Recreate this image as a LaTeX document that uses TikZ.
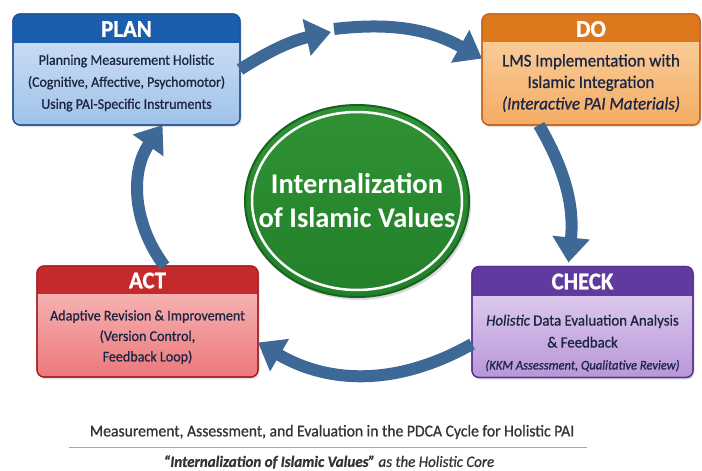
\documentclass[tikz,border=0pt]{standalone}
\usepackage{fontspec}
\setmainfont{Carlito}
\newfontfamily\boxfont{Carlito}[FakeStretch=0.95,FakeBold=0.9]
\usetikzlibrary{arrows.meta,shadows,shapes.geometric}

\definecolor{planhead}{RGB}{28,94,174}
\definecolor{planlight}{RGB}{214,229,246}
\definecolor{planmid}{RGB}{160,194,234}
\definecolor{planedge}{RGB}{34,82,148}
\definecolor{dohead}{RGB}{222,120,28}
\definecolor{dolight}{RGB}{252,214,168}
\definecolor{domid}{RGB}{244,172,100}
\definecolor{doedge}{RGB}{196,98,22}
\definecolor{acthead}{RGB}{196,42,44}
\definecolor{actlight}{RGB}{250,196,196}
\definecolor{actmid}{RGB}{236,120,122}
\definecolor{actedge}{RGB}{164,32,36}
\definecolor{checkhead}{RGB}{96,58,158}
\definecolor{checklight}{RGB}{232,218,244}
\definecolor{checkmid}{RGB}{184,150,218}
\definecolor{checkedge}{RGB}{84,48,140}
\definecolor{cycleblue}{RGB}{62,104,150}
\definecolor{inktext}{RGB}{28,38,68}
\definecolor{corelight}{RGB}{48,146,52}
\definecolor{coremid}{RGB}{34,128,42}
\definecolor{coredark}{RGB}{22,100,32}
\definecolor{capgray}{RGB}{52,52,56}

\tikzset{
  stage/.style={rectangle,rounded corners=7pt,line width=1.2pt,outer sep=0pt,
    minimum width=222pt,minimum height=111pt,
    drop shadow={opacity=0.25,shadow xshift=1.5pt,shadow yshift=-2pt}},
  headtext/.style={text=white,font=\boxfont\fontsize{24}{26}\selectfont\bfseries},
  bodytext/.style={text=inktext,align=center,font=\boxfont\fontsize{14.6}{22}\selectfont},
  cyc/.style={draw=cycleblue,line width=12pt,-{Triangle[length=25pt,width=36pt]}}
}

\begin{document}
\begin{tikzpicture}[x=1pt,y=-1pt]
\useasboundingbox (0,0) rectangle (702,471);

% four stage boxes
\node[stage,draw=planedge,top color=planlight,bottom color=planmid,minimum width=227pt] (plan) at (126.5,69.5) {};
\node[stage,draw=doedge,top color=dolight,bottom color=domid,minimum width=218pt] (do) at (591,69.5) {};
\node[stage,draw=actedge,top color=actlight,bottom color=actmid,minimum width=221pt] (act) at (147.5,321.5) {};
\node[stage,draw=checkedge,top color=checklight,bottom color=checkmid,minimum width=221pt] (check) at (582.5,322) {};

% header bands
\begin{scope}
\clip[rounded corners=7pt] (plan.south west) rectangle (plan.north east);
\fill[planhead] (plan.north west) rectangle ([yshift=-29pt]plan.north east);
\end{scope}
\begin{scope}
\clip[rounded corners=7pt] (do.south west) rectangle (do.north east);
\fill[dohead] (do.north west) rectangle ([yshift=-28pt]do.north east);
\end{scope}
\begin{scope}
\clip[rounded corners=7pt] (act.south west) rectangle (act.north east);
\fill[acthead] (act.north west) rectangle ([yshift=-28pt]act.north east);
\end{scope}
\begin{scope}
\clip[rounded corners=7pt] (check.south west) rectangle (check.north east);
\fill[checkhead] (check.north west) rectangle ([yshift=-29pt]check.north east);
\end{scope}
\draw[planedge,line width=1.2pt,rounded corners=7pt] (plan.south west) rectangle (plan.north east);
\draw[doedge,line width=1.2pt,rounded corners=7pt] (do.south west) rectangle (do.north east);
\draw[actedge,line width=1.2pt,rounded corners=7pt] (act.south west) rectangle (act.north east);
\draw[checkedge,line width=1.2pt,rounded corners=7pt] (check.south west) rectangle (check.north east);

% titles and texts
\node[headtext] (plantitle) at ([yshift=-15pt]plan.north) {PLAN};
\node[headtext] (dotitle) at ([yshift=-15pt]do.north) {DO};
\node[headtext] (acttitle) at ([yshift=-14.5pt]act.north) {ACT};
\node[headtext] (checktitle) at ([yshift=-15pt]check.north) {CHECK};
\node[bodytext] (plantext) at (126.5,83) {Planning Measurement Holistic\\(Cognitive, Affective, Psychomotor)\\Using PAI-Specific Instruments};
\node[bodytext,font=\boxfont\fontsize{17.8}{21.5}\selectfont] (dotext) at (591,83) {LMS Implementation with\\Islamic Integration\\\textit{(Interactive PAI Materials)}};
\node[bodytext,font=\boxfont\fontsize{14.8}{20.5}\selectfont] (acttext) at (147.5,337) {Adaptive Revision \& Improvement\\(Version Control,\\Feedback Loop)};
\node[bodytext,font=\boxfont\fontsize{15.6}{22}\selectfont] (checktext) at (582.5,343) {\textit{Holistic} Data Evaluation Analysis\\\& Feedback\\{\fontsize{13.2}{15}\selectfont\textit{(KKM Assessment, Qualitative Review)}}};

% core value
\node[ellipse,minimum width=224pt,minimum height=192pt,draw=coredark,line width=2pt,
  top color=corelight,bottom color=coremid,
  drop shadow={opacity=0.3,shadow xshift=2pt,shadow yshift=-3pt}] (core) at (357,201) {};
\draw[white,line width=2.5pt] (core.center) ellipse [x radius=105, y radius=89];
\node[text=white,align=center,font=\fontsize{28.5}{34}\selectfont\bfseries] (coretext) at (core.center) {Internalization\\of Islamic Values};

% PDCA cycle arrows
\coordinate (apex) at (331,32);
\draw[cyc] (plan.east) to[bend left=10] (apex);
\draw[cyc] ([xshift=3pt,yshift=3pt]apex) to[bend left=18] ([yshift=11pt]do.west);
\draw[cyc] ([xshift=-52pt]do.south) to[bend left=18] ([xshift=-14pt,yshift=4pt]check.north);
\draw[cyc] ([yshift=-22pt]check.west) to[bend left=30] ([yshift=-21pt]act.east);
\draw[cyc] ([xshift=17pt]act.north) to[bend left=36] ([xshift=36pt]plan.south);

% caption
\node[text=capgray,font=\boxfont\fontsize{16.5}{19}\selectfont] (caption) at (332,432) {Measurement, Assessment, and Evaluation in the PDCA Cycle for Holistic PAI};
\draw[gray!70,line width=0.8pt] (69,447) -- (587,447);
\node[text=capgray,font=\boxfont\fontsize{15.8}{18}\selectfont\itshape] (subcaption) at (329,462) {\textbf{“Internalization of Islamic Values”} as the Holistic Core};
\end{tikzpicture}
\end{document}
